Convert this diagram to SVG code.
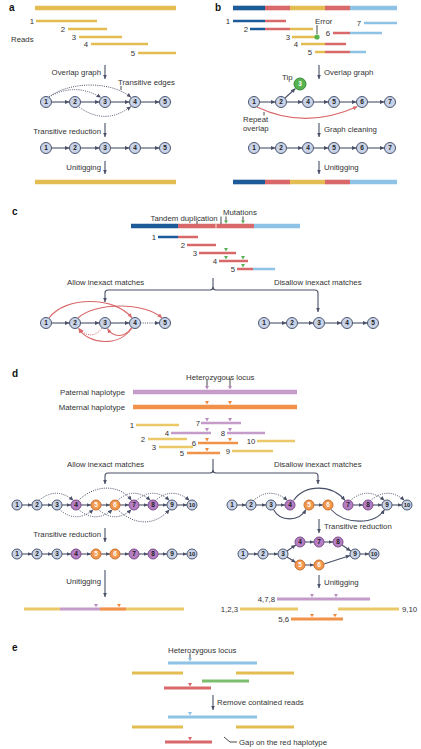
<svg xmlns="http://www.w3.org/2000/svg" width="421" height="749" viewBox="0 0 421 749">
<defs>
<style>
text{font-family:"Liberation Sans","Open Sans",Arial,sans-serif;fill:#333}
.t{font-size:7.8px}
.pl{font-size:10px;font-weight:bold;fill:#111}
.rn{font-size:7.8px;text-anchor:middle}
.end{text-anchor:end}
.nt{font-size:6.5px;font-weight:bold;text-anchor:middle;fill:#222}
.ns{font-size:5.8px}
.nw{fill:#fff}
.b{stroke-width:4.6;fill:none}
.r{stroke-width:2.5;fill:none}
.u{stroke-width:3.2;fill:none}
.gold{stroke:#E3BD52}.lgold{stroke:#EBC868}.dblue{stroke:#1D5A98}.red{stroke:#D9686A}.lblue{stroke:#8EC3E6}.purp{stroke:#C49BC9}.orng{stroke:#F1924A}.grn{stroke:#7DBE6E}
.e{stroke:#4A5068;stroke-width:1.1;fill:none;marker-end:url(#ah)}
.ed{stroke:#4A5068;stroke-width:1;stroke-dasharray:1 1.2;fill:none;marker-end:url(#ah)}
.er{stroke:#D9686A;stroke-width:1.1;fill:none;marker-end:url(#ahr)}
.erd{stroke:#D9686A;stroke-width:1;stroke-dasharray:1 1.2;fill:none;marker-end:url(#ahr)}
.tick{stroke:#333;stroke-width:0.9;fill:none}
.step{stroke:#4A5068;stroke-width:1.1;fill:none;marker-end:url(#ah)}
.ng circle{fill:#C9D3E8;stroke:#4B566F;stroke-width:1}
.np circle{fill:#B57EC3;stroke:#7B4E88;stroke-width:1}
.no circle{fill:#F3994F;stroke:#C8702E;stroke-width:1}
.nG circle{fill:#55B24F;stroke:#3B8C37;stroke-width:1}
</style>
<marker id="ah" viewBox="0 0 6 6" refX="6" refY="3" markerWidth="4.5" markerHeight="4.5" orient="auto" markerUnits="userSpaceOnUse"><path d="M0,0.3 L6,3 L0,5.7 z" fill="#4A5068"/></marker>
<marker id="ahr" viewBox="0 0 6 6" refX="6" refY="3" markerWidth="4.5" markerHeight="4.5" orient="auto" markerUnits="userSpaceOnUse"><path d="M0,0.3 L6,3 L0,5.7 z" fill="#D9686A"/></marker>
<path id="tri" d="M-2,-1.6 L2,-1.6 L0,1.8 z"/>
</defs>
<rect width="421" height="749" fill="#fff"/>

<!-- ================= PANEL A ================= -->
<g id="panel-a">
<text class="pl" x="9" y="11">a</text>
<line class="b gold" x1="35" y1="8" x2="176" y2="8"/>
<line class="r gold" x1="36" y1="21" x2="97" y2="21"/><text class="rn" x="32" y="23.8">1</text>
<line class="r gold" x1="68" y1="29" x2="107" y2="29"/><text class="rn" x="63" y="31.8">2</text>
<line class="r gold" x1="79" y1="37" x2="122" y2="37"/><text class="rn" x="74" y="39.8">3</text>
<line class="r gold" x1="91" y1="44" x2="148" y2="44"/><text class="rn" x="86" y="46.8">4</text>
<line class="r gold" x1="138" y1="53" x2="176" y2="53"/><text class="rn" x="133" y="55.8">5</text>
<text class="t" x="11" y="41.8">Reads</text>
<text class="t end" x="101" y="74.8">Overlap graph</text>
<text class="t" x="118" y="84.5">Transitive edges</text>
<line class="tick" x1="121" y1="86" x2="121" y2="90"/>
<text class="t end" x="101" y="133.8">Transitive reduction</text>
<text class="t end" x="101" y="169.8">Unitigging</text>
<line class="b gold" x1="35" y1="182" x2="176" y2="182"/>
</g>
<g id="a-connectors">
<path class="step" d="M105,65 V79"/>
<path class="step" d="M105,123 V137"/>
<path class="step" d="M105,161 V174"/>
<path class="e" d="M51.5,102 H69.5"/><path class="e" d="M80.5,102 H99.5"/><path class="e" d="M110.5,102 H129.5"/><path class="e" d="M140.5,102 H159.5"/>
<path class="ed" d="M49,97 Q75,82 101,97.5"/>
<path class="ed" d="M49,97 C70,81 112,81 131,97.5"/>
<path class="ed" d="M79,107 Q105,126 131,106.5"/>
<path class="e" d="M51.5,148 H69.5"/><path class="e" d="M80.5,148 H99.5"/><path class="e" d="M110.5,148 H129.5"/><path class="e" d="M140.5,148 H159.5"/>
</g>
<g id="a-g1-n1" class="ng"><circle cx="46" cy="102" r="5.5"/><text class="nt" x="46" y="104.3">1</text></g>
<g id="a-g1-n2" class="ng"><circle cx="75" cy="102" r="5.5"/><text class="nt" x="75" y="104.3">2</text></g>
<g id="a-g1-n3" class="ng"><circle cx="105" cy="102" r="5.5"/><text class="nt" x="105" y="104.3">3</text></g>
<g id="a-g1-n4" class="ng"><circle cx="135" cy="102" r="5.5"/><text class="nt" x="135" y="104.3">4</text></g>
<g id="a-g1-n5" class="ng"><circle cx="165" cy="102" r="5.5"/><text class="nt" x="165" y="104.3">5</text></g>
<g id="a-g2-n1" class="ng"><circle cx="46" cy="148" r="5.5"/><text class="nt" x="46" y="150.3">1</text></g>
<g id="a-g2-n2" class="ng"><circle cx="75" cy="148" r="5.5"/><text class="nt" x="75" y="150.3">2</text></g>
<g id="a-g2-n3" class="ng"><circle cx="105" cy="148" r="5.5"/><text class="nt" x="105" y="150.3">3</text></g>
<g id="a-g2-n4" class="ng"><circle cx="135" cy="148" r="5.5"/><text class="nt" x="135" y="150.3">4</text></g>
<g id="a-g2-n5" class="ng"><circle cx="165" cy="148" r="5.5"/><text class="nt" x="165" y="150.3">5</text></g>

<!-- ================= PANEL B ================= -->
<g id="panel-b">
<text class="pl" x="215" y="11">b</text>
<line class="b dblue" x1="233" y1="8" x2="265" y2="8"/><line class="b red" x1="265" y1="8" x2="290" y2="8"/><line class="b gold" x1="290" y1="8" x2="325" y2="8"/><line class="b red" x1="325" y1="8" x2="350" y2="8"/><line class="b lblue" x1="350" y1="8" x2="397" y2="8"/>
<line class="r dblue" x1="233" y1="21" x2="265" y2="21"/><line class="r red" x1="265" y1="21" x2="286" y2="21"/><text class="rn" x="228" y="23.8">1</text>
<line class="r dblue" x1="250" y1="29" x2="265" y2="29"/><line class="r red" x1="265" y1="29" x2="290" y2="29"/><line class="r gold" x1="290" y1="29" x2="313" y2="29"/><text class="rn" x="246" y="31.8">2</text>
<line class="r gold" x1="292" y1="37" x2="316" y2="37"/><text class="rn" x="288" y="39.8">3</text>
<circle cx="317" cy="37" r="2.6" fill="#55B24F"/>
<text class="t" x="315" y="23.5">Error</text>
<line class="tick" x1="317" y1="25" x2="317" y2="34"/>
<line class="r gold" x1="301" y1="44" x2="325" y2="44"/><line class="r red" x1="325" y1="44" x2="346" y2="44"/><text class="rn" x="296" y="46.8">4</text>
<line class="r gold" x1="315" y1="52" x2="325" y2="52"/><line class="r red" x1="325" y1="52" x2="350" y2="52"/><line class="r lblue" x1="350" y1="52" x2="366" y2="52"/><text class="rn" x="310" y="54.8">5</text>
<line class="r red" x1="333" y1="33" x2="350" y2="33"/><line class="r lblue" x1="350" y1="33" x2="382" y2="33"/><text class="rn" x="328" y="35.8">6</text>
<line class="r lblue" x1="364" y1="23" x2="397" y2="23"/><text class="rn" x="359" y="25.8">7</text>
<text class="t" x="324" y="74.8">Overlap graph</text>
<text class="t" x="282" y="79.8">Tip</text>
<text class="t" x="243" y="122.2">Repeat</text>
<text class="t" x="243" y="130.6">overlap</text>
<line class="tick" x1="264" y1="112" x2="264" y2="115.5"/>
<text class="t" x="324" y="131.8">Graph cleaning</text>
<text class="t" x="324" y="169.8">Unitigging</text>
<line class="b dblue" x1="233" y1="182" x2="265" y2="182"/><line class="b red" x1="265" y1="182" x2="290" y2="182"/><line class="b gold" x1="290" y1="182" x2="325" y2="182"/><line class="b red" x1="325" y1="182" x2="350" y2="182"/><line class="b lblue" x1="350" y1="182" x2="397" y2="182"/>
</g>
<g id="b-connectors">
<path class="step" d="M319,65 V79"/>
<path class="step" d="M319,123 V137"/>
<path class="step" d="M319,161 V174"/>
<path class="e" d="M259.5,102 H275.5"/><path class="e" d="M286.5,102 H302.5"/><path class="e" d="M313.5,102 H328.5"/><path class="e" d="M339.5,102 H356.5"/><path class="e" d="M367.5,102 H384.5"/>
<path class="e" d="M285,98 L295.5,88.5"/>
<path class="er" d="M257,107 Q305,130 357.5,106.5"/>
<path class="e" d="M259.5,148 H275.5"/><path class="e" d="M286.5,148 H302.5"/><path class="e" d="M313.5,148 H328.5"/><path class="e" d="M339.5,148 H356.5"/><path class="e" d="M367.5,148 H384.5"/>
</g>
<g id="b-g1-n1" class="ng"><circle cx="254" cy="102" r="5.5"/><text class="nt" x="254" y="104.3">1</text></g>
<g id="b-g1-n2" class="ng"><circle cx="281" cy="102" r="5.5"/><text class="nt" x="281" y="104.3">2</text></g>
<g id="b-g1-n3" class="nG"><circle cx="300" cy="84" r="6"/><text class="nt nw" x="300" y="86.3">3</text></g>
<g id="b-g1-n4" class="ng"><circle cx="308" cy="102" r="5.5"/><text class="nt" x="308" y="104.3">4</text></g>
<g id="b-g1-n5" class="ng"><circle cx="334" cy="102" r="5.5"/><text class="nt" x="334" y="104.3">5</text></g>
<g id="b-g1-n6" class="ng"><circle cx="362" cy="102" r="5.5"/><text class="nt" x="362" y="104.3">6</text></g>
<g id="b-g1-n7" class="ng"><circle cx="390" cy="102" r="5.5"/><text class="nt" x="390" y="104.3">7</text></g>
<g id="b-g2-n1" class="ng"><circle cx="254" cy="148" r="5.5"/><text class="nt" x="254" y="150.3">1</text></g>
<g id="b-g2-n2" class="ng"><circle cx="281" cy="148" r="5.5"/><text class="nt" x="281" y="150.3">2</text></g>
<g id="b-g2-n4" class="ng"><circle cx="308" cy="148" r="5.5"/><text class="nt" x="308" y="150.3">4</text></g>
<g id="b-g2-n5" class="ng"><circle cx="334" cy="148" r="5.5"/><text class="nt" x="334" y="150.3">5</text></g>
<g id="b-g2-n6" class="ng"><circle cx="362" cy="148" r="5.5"/><text class="nt" x="362" y="150.3">6</text></g>
<g id="b-g2-n7" class="ng"><circle cx="390" cy="148" r="5.5"/><text class="nt" x="390" y="150.3">7</text></g>

<!-- ================= PANEL C ================= -->
<g id="panel-c">
<text class="pl" x="12" y="215">c</text>
<text class="t" x="150.5" y="220.5">Tandem duplication</text>
<text class="t" x="223" y="214.5">Mutations</text>
<line class="b dblue" x1="131" y1="226" x2="178" y2="226"/><line class="b red" x1="178" y1="226" x2="254" y2="226"/><line class="b lblue" x1="254" y1="226" x2="300" y2="226"/>
<line x1="216" y1="223.7" x2="216" y2="228.3" stroke="#fff" stroke-width="0.8"/>
<line class="tick" x1="197" y1="221" x2="197" y2="224"/>
<line class="tick" x1="221" y1="216.5" x2="221" y2="224"/>
<line class="tick" x1="226" y1="216.5" x2="226" y2="221"/><use href="#tri" x="226" y="222" fill="#5DB35A"/>
<line class="tick" x1="243" y1="216.5" x2="243" y2="221"/><use href="#tri" x="243" y="222" fill="#5DB35A"/>
<line class="r dblue" x1="158" y1="237" x2="178" y2="237"/><line class="r red" x1="178" y1="237" x2="198" y2="237"/><text class="rn" x="154" y="239.8">1</text>
<line class="r red" x1="187" y1="245" x2="216" y2="245"/><text class="rn" x="183" y="247.8">2</text>
<line class="r red" x1="199" y1="253" x2="236" y2="253"/><text class="rn" x="195" y="255.8">3</text><use href="#tri" x="226" y="249.7" fill="#5DB35A"/>
<line class="r red" x1="219" y1="261" x2="248" y2="261"/><text class="rn" x="215" y="263.8">4</text><use href="#tri" x="226" y="257.7" fill="#5DB35A"/><use href="#tri" x="243" y="257.7" fill="#5DB35A"/>
<line class="r red" x1="237" y1="269" x2="253" y2="269"/><line class="r lblue" x1="253" y1="269" x2="275" y2="269"/><text class="rn" x="233" y="271.8">5</text><use href="#tri" x="243" y="265.7" fill="#5DB35A"/>
<text class="t" x="67" y="284.8">Allow inexact matches</text>
<text class="t" x="274" y="284.8">Disallow inexact matches</text>
</g>
<g id="c-connectors">
<path class="step" d="M213,278 V287 Q213,290 210,290 H108 Q105,290 105,293 V302"/>
<path class="step" d="M213,287 Q213,290 216,290 H315 Q318,290 318,293 V312"/>
<path class="e" d="M51.5,323 H69.5"/><path class="e" d="M80.5,323 H99.5"/><path class="e" d="M110.5,323 H129.5"/><path class="ed" d="M140.5,323 H159.5"/>
<path class="er" d="M49,318 C65,296 115,296 132,318"/>
<path class="er" d="M78,318 C95,302 145,302 162,318"/>
<path class="er" d="M132,328 C120,346 90,346 78.5,328.5"/>
<path class="er" d="M131.5,327.5 C125,338 113,338 107.5,328.5"/>
<path class="erd" d="M102,328 C96,337 86,337 79.5,328.5"/>
<path class="e" d="M269.5,323 H286.5"/><path class="e" d="M297.5,323 H313.5"/><path class="e" d="M324.5,323 H341.5"/><path class="e" d="M352.5,323 H367.5"/>
</g>
<g id="c-l-n1" class="ng"><circle cx="46" cy="323" r="5.5"/><text class="nt" x="46" y="325.3">1</text></g>
<g id="c-l-n2" class="ng"><circle cx="75" cy="323" r="5.5"/><text class="nt" x="75" y="325.3">2</text></g>
<g id="c-l-n3" class="ng"><circle cx="105" cy="323" r="5.5"/><text class="nt" x="105" y="325.3">3</text></g>
<g id="c-l-n4" class="ng"><circle cx="135" cy="323" r="5.5"/><text class="nt" x="135" y="325.3">4</text></g>
<g id="c-l-n5" class="ng"><circle cx="165" cy="323" r="5.5"/><text class="nt" x="165" y="325.3">5</text></g>
<g id="c-r-n1" class="ng"><circle cx="264" cy="323" r="5.5"/><text class="nt" x="264" y="325.3">1</text></g>
<g id="c-r-n2" class="ng"><circle cx="292" cy="323" r="5.5"/><text class="nt" x="292" y="325.3">2</text></g>
<g id="c-r-n3" class="ng"><circle cx="319" cy="323" r="5.5"/><text class="nt" x="319" y="325.3">3</text></g>
<g id="c-r-n4" class="ng"><circle cx="347" cy="323" r="5.5"/><text class="nt" x="347" y="325.3">4</text></g>
<g id="c-r-n5" class="ng"><circle cx="373" cy="323" r="5.5"/><text class="nt" x="373" y="325.3">5</text></g>

<!-- ================= PANEL D ================= -->
<g id="panel-d">
<text class="pl" x="12" y="377">d</text>
<text class="t" x="186" y="379.5">Heterozygous locus</text>
<text class="t end" x="125" y="394.8">Paternal haplotype</text>
<text class="t end" x="125" y="409.8">Maternal haplotype</text>
<line class="b purp" x1="133" y1="392" x2="297" y2="392"/>
<line class="b orng" x1="133" y1="407" x2="297" y2="407"/>
<line class="tick" x1="207" y1="380" x2="207" y2="386.5"/><use href="#tri" x="207" y="387.6" fill="#B98BC0"/>
<line class="tick" x1="230" y1="378" x2="230" y2="386.5"/><use href="#tri" x="230" y="387.6" fill="#B98BC0"/>
<use href="#tri" x="207" y="402.7" fill="#F08A3E"/><use href="#tri" x="230" y="402.7" fill="#F08A3E"/>
<line class="r lgold" x1="136" y1="425" x2="179" y2="425"/><text class="rn" x="132" y="427.8">1</text>
<line class="r purp" x1="201" y1="423" x2="241" y2="423"/><text class="rn" x="198" y="425.8">7</text><use href="#tri" x="207" y="419.7" fill="#B98BC0"/><use href="#tri" x="230" y="419.7" fill="#B98BC0"/>
<line class="r purp" x1="171" y1="433" x2="211" y2="433"/><text class="rn" x="167" y="435.8">4</text><use href="#tri" x="207" y="429.7" fill="#B98BC0"/>
<line class="r purp" x1="227" y1="433" x2="265" y2="433"/><text class="rn" x="223" y="435.8">8</text><use href="#tri" x="230" y="429.7" fill="#B98BC0"/>
<line class="r lgold" x1="148" y1="439" x2="187" y2="439"/><text class="rn" x="143" y="441.8">2</text>
<line class="r orng" x1="198" y1="443" x2="238" y2="443"/><text class="rn" x="194" y="445.8">6</text><use href="#tri" x="207" y="439.7" fill="#F08A3E"/><use href="#tri" x="230" y="439.7" fill="#F08A3E"/>
<line class="r lgold" x1="257" y1="441" x2="295" y2="441"/><text class="rn" x="251" y="443.8">10</text>
<line class="r lgold" x1="159" y1="447" x2="193" y2="447"/><text class="rn" x="154" y="449.8">3</text>
<line class="r lgold" x1="232" y1="451" x2="273" y2="451"/><text class="rn" x="228" y="453.8">9</text>
<line class="r orng" x1="187" y1="453" x2="220" y2="453"/><text class="rn" x="182" y="455.8">5</text><use href="#tri" x="207" y="449.7" fill="#F08A3E"/>
<text class="t" x="67" y="466.8">Allow inexact matches</text>
<text class="t" x="274" y="466.8">Disallow inexact matches</text>
<text class="t end" x="101" y="536.8">Transitive reduction</text>
<text class="t" x="324" y="528.8">Transitive reduction</text>
<text class="t end" x="101" y="583.8">Unitigging</text>
<text class="t" x="324" y="584.8">Unitigging</text>
<line class="u lgold" x1="24" y1="609" x2="60" y2="609"/><line class="u purp" x1="60" y1="609" x2="100" y2="609"/><line class="u orng" x1="100" y1="609" x2="126" y2="609"/><line class="u lgold" x1="126" y1="609" x2="184" y2="609"/>
<use href="#tri" x="96" y="605.5" fill="#B98BC0"/><use href="#tri" x="119" y="605.5" fill="#F08A3E"/>
<line class="u purp" x1="277" y1="599" x2="370" y2="599"/><use href="#tri" x="312" y="595.5" fill="#B98BC0"/><use href="#tri" x="336" y="595.5" fill="#B98BC0"/>
<text class="t end" x="275" y="601.8">4,7,8</text>
<line class="u lgold" x1="240" y1="609" x2="298" y2="609"/><line class="u lgold" x1="338" y1="609" x2="399" y2="609"/>
<text class="t end" x="238" y="611.8">1,2,3</text><text class="t" x="402" y="611.8">9,10</text>
<line class="u orng" x1="291" y1="619" x2="343" y2="619"/><use href="#tri" x="312" y="615.5" fill="#F08A3E"/><use href="#tri" x="335" y="615.5" fill="#F08A3E"/>
<text class="t end" x="289" y="621.8">5,6</text>
</g>
<g id="d-connectors">
<path class="step" d="M213,459 V470 Q213,473 210,473 H108 Q105,473 105,476 V484"/>
<path class="step" d="M213,470 Q213,473 216,473 H315 Q318,473 318,476 V484"/>
<path class="step" d="M105,528 V542"/>
<path class="step" d="M105,570 V597"/>
<path class="step" d="M319,519 V533"/>
<path class="step" d="M319,575 V588"/>
<path class="e" d="M22,505 H32"/><path class="e" d="M42,505 H52"/><path class="e" d="M62,505 H71"/><path class="e" d="M81,505 H91"/><path class="e" d="M101,505 H110"/><path class="e" d="M120,505 H129"/><path class="e" d="M139,505 H148"/><path class="e" d="M158,505 H167"/><path class="e" d="M177,505 H187"/>
<path class="ed" d="M39,500.5 Q56,486 73.5,500.5"/>
<path class="ed" d="M78.5,500.5 C95,484 120,484 131.5,500.5"/>
<path class="ed" d="M117.5,500.5 Q134,486 150.5,500.5"/>
<path class="ed" d="M136.5,500.5 Q153,486 169.5,500.5"/>
<path class="ed" d="M155.5,500.5 Q172,486 189.5,500.5"/>
<path class="ed" d="M59.5,509.5 Q76,524 93.5,509.5"/>
<path class="ed" d="M78.5,509.5 Q96,524 112.5,509.5"/>
<path class="ed" d="M98.5,509.5 Q115,524 131.5,509.5"/>
<path class="ed" d="M117.5,509.5 C135,526 155,526 169.5,509.5"/>
<path class="e" d="M22,554 H32"/><path class="e" d="M42,554 H52"/><path class="e" d="M62,554 H71"/><path class="e" d="M81,554 H91"/><path class="e" d="M101,554 H110"/><path class="e" d="M120,554 H129"/><path class="e" d="M139,554 H148"/><path class="e" d="M158,554 H167"/><path class="e" d="M177,554 H187"/>
<path class="e" d="M237,505 H246"/><path class="e" d="M256,505 H266"/><path class="e" d="M276,505 H285"/><path class="e" d="M314,505 H323"/><path class="e" d="M353,505 H363"/><path class="e" d="M373,505 H382"/><path class="e" d="M392,505 H402"/>
<path class="ed" d="M253.5,500.5 Q270,486 287.5,500.5"/>
<path class="e" d="M293.5,500.5 C305,484 332,484 345,500.5"/>
<path class="e" d="M273.5,509.5 C280,522 299,522 306,509.5"/>
<path class="e" d="M331,509.5 C345,525 375,525 384.5,509.5"/>
<path class="ed" d="M350.5,500.5 Q367,486 384.5,500.5"/>
<path class="ed" d="M370.5,500.5 Q388,486 404.5,500.5"/>
<path class="e" d="M248,554 H258"/><path class="e" d="M268,554 H278"/>
<path class="e" d="M287,551 L295.8,545"/><path class="e" d="M287,557 L295.8,562.5"/>
<path class="e" d="M305,542 H314"/><path class="e" d="M324,542 H333"/>
<path class="e" d="M342,545 L350.8,551"/>
<path class="e" d="M305,565 H314"/><path class="e" d="M324,564 L350.2,555.5"/>
<path class="e" d="M360,554 H369"/>
</g>
<g id="d-l1-n1" class="ng"><circle cx="17" cy="505" r="5"/><text class="nt" x="17" y="507.2">1</text></g>
<g id="d-l1-n2" class="ng"><circle cx="37" cy="505" r="5"/><text class="nt" x="37" y="507.2">2</text></g>
<g id="d-l1-n3" class="ng"><circle cx="57" cy="505" r="5"/><text class="nt" x="57" y="507.2">3</text></g>
<g id="d-l1-n4" class="np"><circle cx="76" cy="505" r="5"/><text class="nt" x="76" y="507.2">4</text></g>
<g id="d-l1-n5" class="no"><circle cx="96" cy="505" r="5"/><text class="nt nw" x="96" y="507.2">5</text></g>
<g id="d-l1-n6" class="no"><circle cx="115" cy="505" r="5"/><text class="nt nw" x="115" y="507.2">6</text></g>
<g id="d-l1-n7" class="np"><circle cx="134" cy="505" r="5"/><text class="nt" x="134" y="507.2">7</text></g>
<g id="d-l1-n8" class="np"><circle cx="153" cy="505" r="5"/><text class="nt" x="153" y="507.2">8</text></g>
<g id="d-l1-n9" class="ng"><circle cx="172" cy="505" r="5"/><text class="nt" x="172" y="507.2">9</text></g>
<g id="d-l1-n10" class="ng"><circle cx="192" cy="505" r="5"/><text class="nt ns" x="192" y="507">10</text></g>
<g id="d-l2-n1" class="ng"><circle cx="17" cy="554" r="5"/><text class="nt" x="17" y="556.2">1</text></g>
<g id="d-l2-n2" class="ng"><circle cx="37" cy="554" r="5"/><text class="nt" x="37" y="556.2">2</text></g>
<g id="d-l2-n3" class="ng"><circle cx="57" cy="554" r="5"/><text class="nt" x="57" y="556.2">3</text></g>
<g id="d-l2-n4" class="np"><circle cx="76" cy="554" r="5"/><text class="nt" x="76" y="556.2">4</text></g>
<g id="d-l2-n5" class="no"><circle cx="96" cy="554" r="5"/><text class="nt nw" x="96" y="556.2">5</text></g>
<g id="d-l2-n6" class="no"><circle cx="115" cy="554" r="5"/><text class="nt nw" x="115" y="556.2">6</text></g>
<g id="d-l2-n7" class="np"><circle cx="134" cy="554" r="5"/><text class="nt" x="134" y="556.2">7</text></g>
<g id="d-l2-n8" class="np"><circle cx="153" cy="554" r="5"/><text class="nt" x="153" y="556.2">8</text></g>
<g id="d-l2-n9" class="ng"><circle cx="172" cy="554" r="5"/><text class="nt" x="172" y="556.2">9</text></g>
<g id="d-l2-n10" class="ng"><circle cx="192" cy="554" r="5"/><text class="nt ns" x="192" y="556">10</text></g>
<g id="d-r1-n1" class="ng"><circle cx="232" cy="505" r="5"/><text class="nt" x="232" y="507.2">1</text></g>
<g id="d-r1-n2" class="ng"><circle cx="251" cy="505" r="5"/><text class="nt" x="251" y="507.2">2</text></g>
<g id="d-r1-n3" class="ng"><circle cx="271" cy="505" r="5"/><text class="nt" x="271" y="507.2">3</text></g>
<g id="d-r1-n4" class="np"><circle cx="290" cy="505" r="5"/><text class="nt" x="290" y="507.2">4</text></g>
<g id="d-r1-n5" class="no"><circle cx="309" cy="505" r="5"/><text class="nt nw" x="309" y="507.2">5</text></g>
<g id="d-r1-n6" class="no"><circle cx="328" cy="505" r="5"/><text class="nt nw" x="328" y="507.2">6</text></g>
<g id="d-r1-n7" class="np"><circle cx="348" cy="505" r="5"/><text class="nt" x="348" y="507.2">7</text></g>
<g id="d-r1-n8" class="np"><circle cx="368" cy="505" r="5"/><text class="nt" x="368" y="507.2">8</text></g>
<g id="d-r1-n9" class="ng"><circle cx="387" cy="505" r="5"/><text class="nt" x="387" y="507.2">9</text></g>
<g id="d-r1-n10" class="ng"><circle cx="407" cy="505" r="5"/><text class="nt ns" x="407" y="507">10</text></g>
<g id="d-r2-n1" class="ng"><circle cx="243" cy="554" r="5"/><text class="nt" x="243" y="556.2">1</text></g>
<g id="d-r2-n2" class="ng"><circle cx="263" cy="554" r="5"/><text class="nt" x="263" y="556.2">2</text></g>
<g id="d-r2-n3" class="ng"><circle cx="283" cy="554" r="5"/><text class="nt" x="283" y="556.2">3</text></g>
<g id="d-r2-n4" class="np"><circle cx="300" cy="542" r="5"/><text class="nt" x="300" y="544.2">4</text></g>
<g id="d-r2-n7" class="np"><circle cx="319" cy="542" r="5"/><text class="nt" x="319" y="544.2">7</text></g>
<g id="d-r2-n8" class="np"><circle cx="338" cy="542" r="5"/><text class="nt" x="338" y="544.2">8</text></g>
<g id="d-r2-n5" class="no"><circle cx="300" cy="565" r="5"/><text class="nt nw" x="300" y="567.2">5</text></g>
<g id="d-r2-n6" class="no"><circle cx="319" cy="565" r="5"/><text class="nt nw" x="319" y="567.2">6</text></g>
<g id="d-r2-n9" class="ng"><circle cx="355" cy="554" r="5"/><text class="nt" x="355" y="556.2">9</text></g>
<g id="d-r2-n10" class="ng"><circle cx="374" cy="554" r="5"/><text class="nt ns" x="374" y="556">10</text></g>

<!-- ================= PANEL E ================= -->
<g id="panel-e">
<text class="pl" x="12" y="651">e</text>
<text class="t" x="168" y="652.5">Heterozygous locus</text>
<line class="tick" x1="190" y1="653.5" x2="190" y2="658.5"/><use href="#tri" x="190" y="659.6" fill="#8EC3E6"/>
<line class="u lblue" x1="168" y1="663" x2="257" y2="663"/>
<line class="u gold" x1="132" y1="673" x2="183" y2="673"/><line class="u gold" x1="236" y1="673" x2="294" y2="673"/>
<line class="u grn" x1="202" y1="681" x2="249" y2="681"/>
<line class="u red" x1="164" y1="688" x2="211" y2="688"/><use href="#tri" x="190" y="684.6" fill="#D9686A"/>
<text class="t" x="217" y="704.8">Remove contained reads</text>
<line class="u lblue" x1="168" y1="717" x2="257" y2="717"/><use href="#tri" x="190" y="713.6" fill="#8EC3E6"/>
<line class="u gold" x1="132" y1="727" x2="183" y2="727"/><line class="u gold" x1="236" y1="727" x2="294" y2="727"/>
<line class="u red" x1="165" y1="742" x2="212" y2="742"/><use href="#tri" x="190" y="738.6" fill="#D9686A"/>
<path class="tick" d="M224,737 L230,742 H237"/>
<text class="t" x="239" y="744.8">Gap on the red haplotype</text>
</g>
<g id="e-connectors">
<path class="step" d="M213,695 V710"/>
</g>
</svg>
